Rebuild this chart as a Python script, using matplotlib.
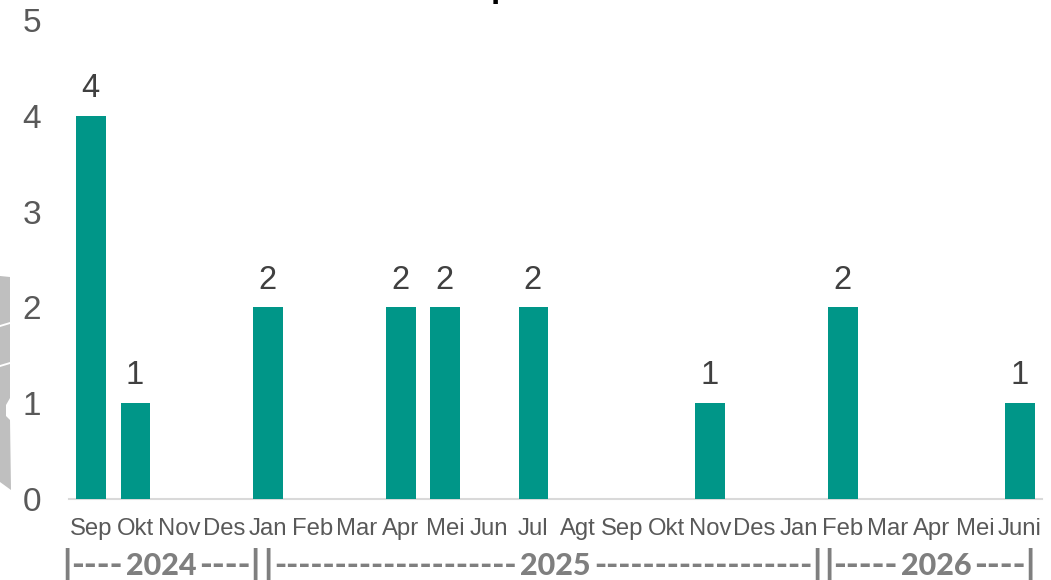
import matplotlib
matplotlib.use("Agg")
import matplotlib.pyplot as plt
from matplotlib.patches import Polygon

months = ["Sep","Okt","Nov","Des","Jan","Feb","Mar","Apr","Mei","Jun","Jul","Agt",
          "Sep","Okt","Nov","Des","Jan","Feb","Mar","Apr","Mei","Juni"]
values = [4,1,0,0,2,0,0,2,2,0,2,0,0,0,1,0,0,2,0,0,0,1]
years = ["2024", "2025", "2026"]
year_centers_px = [161, 555.5, 936]
rule_runs = [("|", 67), ("----", 97), ("----", 225), ("|", 255), ("|", 268),
             ("-"*20, 395), ("-"*18, 703), ("|", 817), ("|", 829),
             ("-"*5, 865), ("----", 1000), ("|", 1030)]

W, H = 1051, 580
plt.rcParams['font.family'] = ['Liberation Sans', 'DejaVu Sans']
fig = plt.figure(figsize=(W/100, H/100), dpi=100, facecolor='white')
ax = fig.add_axes([69/W, 1-499/H, (1042-69)/W, (499-20)/H])

x = list(range(len(months)))
bars = ax.bar(x, values, width=0.67, color='#009688', zorder=3)
ax.set_xlim(-0.5, len(months)-0.5)
ax.set_ylim(0, 5)
for b, v in zip(bars, values):
    if v > 0:
        ax.annotate(str(v), (b.get_x()+b.get_width()/2, v), xytext=(-0.5, 8.5), textcoords='offset points',
                    ha='center', va='bottom', fontsize=23.5, color='#404040')
for s in ['top','right','left']:
    ax.spines[s].set_visible(False)
ax.spines['bottom'].set_color('#d9d9d9')
ax.spines['bottom'].set_linewidth(1.5)
ax.tick_params(axis='both', length=0)
ax.set_yticks(range(6))
ax.tick_params(axis='y', labelsize=24, labelcolor='#595959', pad=20)
ax.set_xticks(x)
ax.set_xticklabels(months, fontsize=17.2, color='#595959')
ax.tick_params(axis='x', pad=14)

font = dict(ha='center', va='baseline', fontweight=900, color='#7f7f7f', family=['Lato', 'DejaVu Sans'])
for label, cx in zip(years, year_centers_px):
    fig.text(cx/W, 1-575/H, label, fontsize=22, **font)
for label, cx in rule_runs:
    fig.text(cx/W, 1-575/H, label, fontsize=23.5 if len(label) > 5 else 25, **font)

# grey map fragment at the left edge and the clipped title descender
shape = [(0,276),(10,277),(10,322),(0,325)]
shape2 = [(0,327),(10,324),(10,362),(0,365)]
shape3 = [(0,367),(10,364),(10,398),(6,405),(6,416),(10,420),(11,490),(0,482)]
for p in (shape, shape2, shape3):
    fig.add_artist(Polygon([(a/W, 1-b/H) for a, b in p], closed=True, transform=fig.transFigure,
                           facecolor='#bfbfbf', edgecolor='none'))
fig.text(491/W, 1-(-12)/H, "p", fontsize=24, fontweight='bold', color='black', ha='left', va='center')

fig.savefig("out.png", dpi=100)
